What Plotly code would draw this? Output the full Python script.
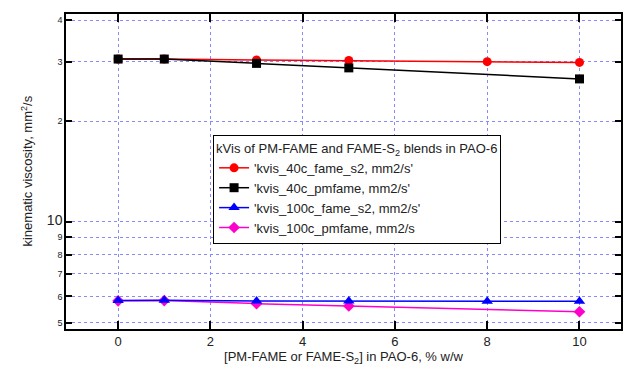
import plotly.graph_objects as go

x_fame_s2 = [0, 1, 3, 5, 8, 10]
x_pmfame = [0, 1, 3, 5, 10]
kvis_40c_fame_s2 = [30.6, 30.6, 30.4, 30.3, 30.05, 29.9]
kvis_40c_pmfame = [30.6, 30.6, 29.7, 28.8, 26.7]
kvis_100c_fame_s2 = [5.83, 5.84, 5.81, 5.81, 5.80, 5.80]
kvis_100c_pmfame = [5.82, 5.83, 5.71, 5.62, 5.40]

y_tickvals = [5, 6, 7, 8, 9, 10, 20, 30, 40]
y_ticktext = ["5", "6", "7", "8", "9", "<span style='font-size:14px'>10</span>", "2", "3", "4"]
x_tickvals = [0, 2, 4, 6, 8, 10]

names = ["'kvis_40c_fame_s2, mm2/s'", "'kvis_40c_pmfame, mm2/s'",
         "'kvis_100c_fame_s2, mm2/s'", "'kvis_100c_pmfame, mm2/s"]

fig = go.Figure()
fig.add_trace(go.Scatter(x=x_fame_s2, y=kvis_40c_fame_s2, name=names[0], legendrank=1,
                         mode="lines+markers", line=dict(color="#ff0000", width=1.5),
                         marker=dict(symbol="circle", size=9, color="#ff0000")))
fig.add_trace(go.Scatter(x=x_pmfame, y=kvis_40c_pmfame, name=names[1], legendrank=2,
                         mode="lines+markers", line=dict(color="#000000", width=1.5),
                         marker=dict(symbol="square", size=9, color="#000000")))
fig.add_trace(go.Scatter(x=x_pmfame, y=kvis_100c_pmfame, name=names[3], legendrank=4,
                         mode="lines+markers", line=dict(color="#ff00cc", width=1.5),
                         marker=dict(symbol="diamond", size=9, color="#ff00cc")))
fig.add_trace(go.Scatter(x=x_fame_s2, y=kvis_100c_fame_s2, name=names[2], legendrank=3,
                         mode="lines+markers", line=dict(color="#0000ff", width=1.5),
                         marker=dict(symbol="triangle-up", size=10, color="#0000ff")))

fig.update_layout(
    width=633, height=372,
    margin=dict(l=66, r=12, t=14, b=43),
    paper_bgcolor="white", plot_bgcolor="white",
    font=dict(family="Liberation Sans, Arial, sans-serif", color="#222222", size=13),
    legend=dict(
        title=dict(text="kVis of PM-FAME and FAME-S<sub>2</sub> blends in PAO-6", font=dict(size=13)),
        x=0.265, y=0.616, xanchor="left", yanchor="top",
        bgcolor="white", bordercolor="black", borderwidth=1,
        font=dict(size=13), tracegroupgap=0, itemwidth=30,
    ),
    annotations=[dict(
        text="kinematic viscosity, mm<sup>2</sup>/s", textangle=-90,
        xref="paper", yref="paper", x=-0.072, y=0.5, xanchor="center", yanchor="middle",
        showarrow=False, font=dict(size=13),
    )],
)
fig.update_xaxes(
    range=[-1.13, 10.9], tickvals=x_tickvals, automargin=False,
    showline=True, linecolor="black", linewidth=1.5, mirror="ticks",
    ticks="inside", ticklen=8, tickcolor="black", tickwidth=1.5,
    showgrid=True, gridcolor="#8888ff", griddash="dot", gridwidth=1,
    zeroline=False, tickfont=dict(size=13),
    title=dict(text="[PM-FAME or FAME-S<sub>2</sub>] in PAO-6, % w/w", font=dict(size=13), standoff=4),
)
fig.update_yaxes(
    type="log", range=[0.681, 1.620], tickvals=y_tickvals, ticktext=y_ticktext, automargin=False,
    showline=True, linecolor="black", linewidth=1.5, mirror="ticks",
    ticks="inside", ticklen=6, tickcolor="black", tickwidth=1.5,
    showgrid=True, gridcolor="#8888ff", griddash="dot", gridwidth=1,
    zeroline=False, tickfont=dict(size=9),
)

fig.write_html("out.html", config={"displayModeBar": False},
               post_script="document.body.style.margin='0';")
